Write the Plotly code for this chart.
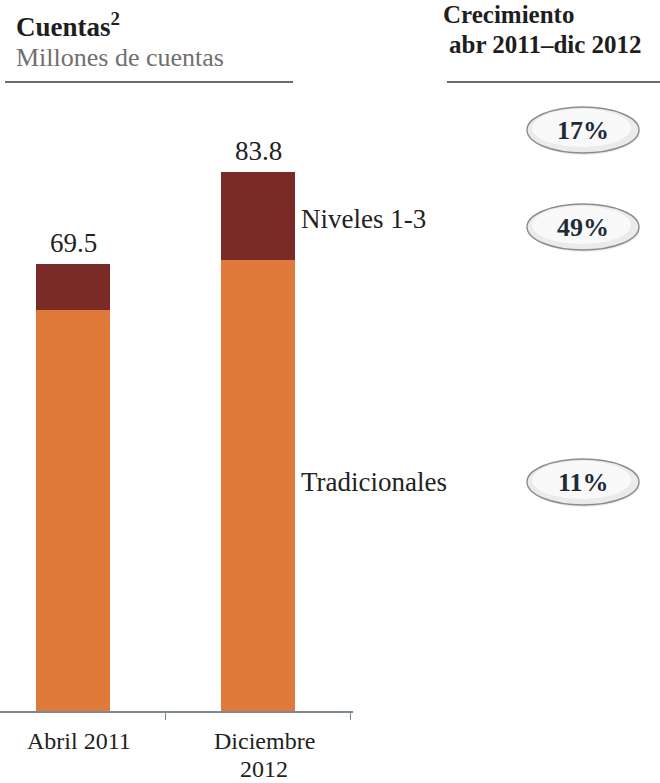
import plotly.graph_objects as go

# Cuentas (millones): stacked by account type
categories = ["Abril 2011", "Diciembre<br>2012"]
tradicionales = [62.3, 70.1]
niveles = [7.2, 13.7]
totales = [69.5, 83.8]
series_names = ["Tradicionales", "Niveles 1-3"]

# Growth abr 2011 - dic 2012: total, Niveles 1-3, Tradicionales
growth_labels = ["17%", "49%", "11%"]

W, H = 660, 783
MB = 72
PH = H - MB
FONT = "Liberation Serif, DejaVu Serif, serif"


def px(x):
    return x / W


def py(y):
    return 1 - y / PH


x_pos = list(range(len(categories)))
BAR_W = 0.4

fig = go.Figure()
fig.add_trace(go.Bar(
    x=x_pos, y=tradicionales, width=BAR_W, name=series_names[0],
    marker=dict(color="#e07a3b", line_width=0), hoverinfo="skip",
))
fig.add_trace(go.Bar(
    x=x_pos, y=niveles, width=BAR_W, name=series_names[1],
    marker=dict(color="#7a2a27", line_width=0), hoverinfo="skip",
))

annotations = []

# totals above each bar
for i, t in enumerate(totales):
    annotations.append(dict(
        x=i, y=t, xref="x", yref="y", text=f"{t:.1f}", showarrow=False,
        yanchor="bottom", yshift=4, font=dict(family=FONT, size=27, color="#222222"),
    ))

# category labels under the axis, one annotation per line for tight leading
for i, cat in enumerate(categories):
    for j, line in enumerate(cat.split("<br>")):
        annotations.append(dict(
            x=i, y=0, xref="x", yref="y", text=line, showarrow=False,
            xanchor="center", yanchor="middle", xshift=6, yshift=-30 - 28 * j,
            borderpad=0, font=dict(family=FONT, size=24, color="#222222"),
        ))

# series names beside the last bar
last = len(categories) - 1
annotations.append(dict(
    x=last + BAR_W / 2, y=tradicionales[last] + niveles[last] / 2, xref="x", yref="y",
    text=series_names[1], showarrow=False, xanchor="left", yanchor="middle",
    xshift=4, yshift=-3, font=dict(family=FONT, size=27, color="#222222"),
))
annotations.append(dict(
    x=last + BAR_W / 2, y=tradicionales[last] / 2, xref="x", yref="y",
    text=series_names[0], showarrow=False, xanchor="left", yanchor="middle",
    xshift=4, yshift=4, font=dict(family=FONT, size=27, color="#222222"),
))

# headers
annotations += [
    dict(x=px(14), y=py(25), xref="paper", yref="paper", xanchor="left", yanchor="middle",
         text="<b>Cuentas<sup>2</sup></b>", showarrow=False,
         font=dict(family=FONT, size=27, color="#1e1e1e")),
    dict(x=px(14), y=py(57), xref="paper", yref="paper", xanchor="left", yanchor="middle",
         text="Millones de cuentas", showarrow=False,
         font=dict(family=FONT, size=26, color="#707070")),
    dict(x=px(441), y=py(15), xref="paper", yref="paper", xanchor="left", yanchor="middle",
         text="<b>Crecimiento</b>", showarrow=False,
         font=dict(family=FONT, size=25, color="#1e1e1e")),
    dict(x=px(447), y=py(44), xref="paper", yref="paper", xanchor="left", yanchor="middle",
         text="<b>abr 2011–dic 2012</b>", showarrow=False,
         font=dict(family=FONT, size=25, color="#1e1e1e")),
]

shapes = [
    dict(type="line", xref="paper", yref="paper", x0=px(5), x1=px(293), y0=py(82), y1=py(82),
         line=dict(color="#3a3a3a", width=1.3)),
    dict(type="line", xref="paper", yref="paper", x0=px(447), x1=px(660), y0=py(82), y1=py(82),
         line=dict(color="#3a3a3a", width=1.3)),
]

# growth badges
badge_y = [130, 227, 482]
CX, EW, EH = 583, 112, 46
for cy, lab in zip(badge_y, growth_labels):
    shapes.append(dict(type="circle", xref="paper", yref="paper",
                       x0=px(CX - EW / 2 + 1), x1=px(CX + EW / 2 + 1),
                       y0=py(cy + EH / 2 + 2), y1=py(cy - EH / 2 + 2),
                       fillcolor="rgba(0,0,0,0.07)", line=dict(width=0)))
    shapes.append(dict(type="circle", xref="paper", yref="paper",
                       x0=px(CX - EW / 2), x1=px(CX + EW / 2),
                       y0=py(cy + EH / 2), y1=py(cy - EH / 2),
                       fillcolor="#ebebeb", line=dict(color="#8c8c8c", width=1.4)))
    shapes.append(dict(type="circle", xref="paper", yref="paper",
                       x0=px(CX - EW / 2 + 5), x1=px(CX + EW / 2 - 8),
                       y0=py(cy + EH / 2 - 6), y1=py(cy - EH / 2 + 2),
                       fillcolor="#f9f9f9", line=dict(width=0)))
    annotations.append(dict(
        x=px(CX), y=py(cy), xref="paper", yref="paper", text=f"<b>{lab}</b>",
        showarrow=False, xanchor="center", yanchor="middle",
        font=dict(family=FONT, size=26, color="#1d2c38"),
    ))

fig.update_layout(
    width=W, height=H,
    margin=dict(l=0, r=0, t=0, b=MB),
    barmode="stack",
    showlegend=False,
    paper_bgcolor="white",
    plot_bgcolor="white",
    annotations=annotations,
    shapes=shapes,
    xaxis=dict(
        domain=[0, 353 / W],
        range=[-73 / 185, 280 / 185],
        tickmode="array", tickvals=x_pos, showticklabels=False,
        ticks="", showline=True, linecolor="#7f8a8f", linewidth=1.5,
        showgrid=False, zeroline=False, automargin=False,
        minor=dict(tickmode="array", tickvals=[0.5, 1.5], ticks="outside", ticklen=7,
                   tickcolor="#7f8a8f", tickwidth=1.2, showgrid=False),
        fixedrange=True,
    ),
    yaxis=dict(range=[0, PH / 6.432], visible=False, automargin=False, fixedrange=True),
)

fig.write_html("out.html")
